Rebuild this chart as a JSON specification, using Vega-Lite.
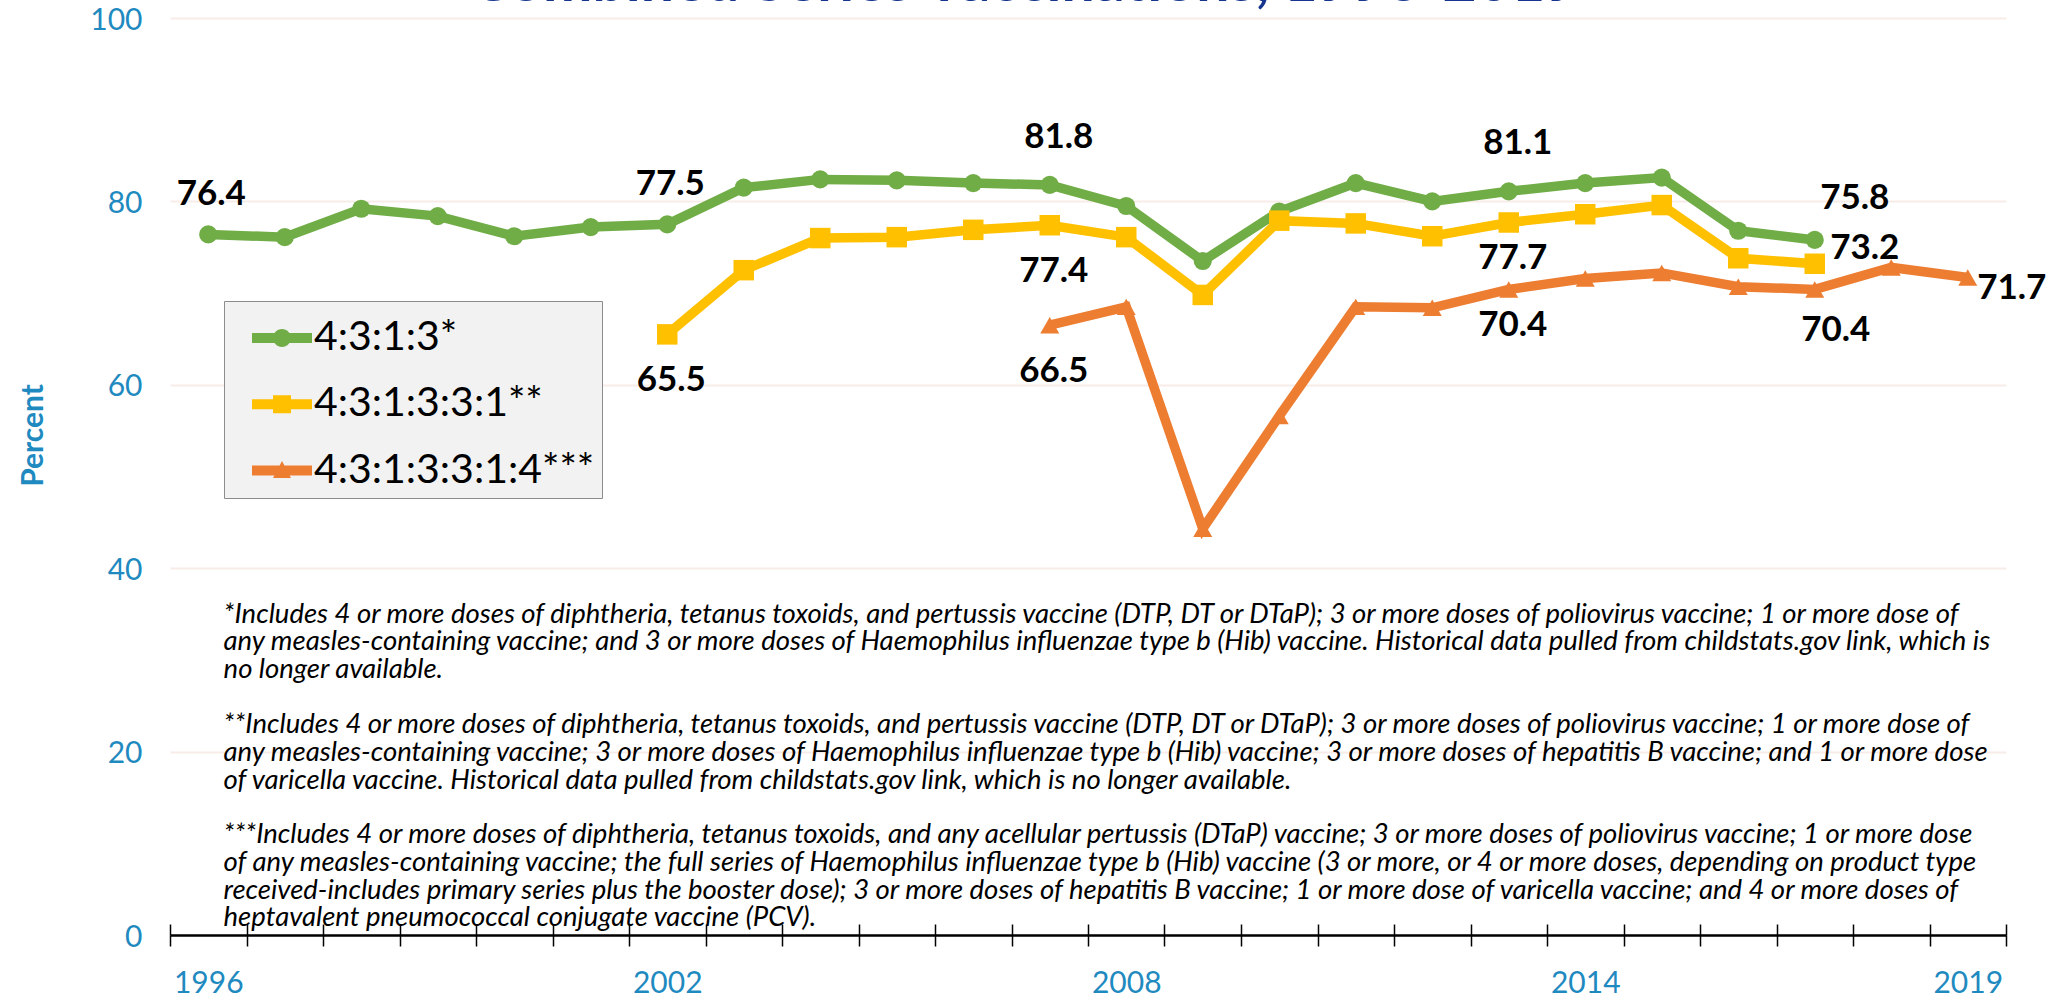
{
  "$schema": "https://vega.github.io/schema/vega-lite/v6.json",
  "width": 1836,
  "height": 917,
  "autosize": {"type": "none"},
  "padding": {"left": 170, "top": 18, "right": 60, "bottom": 66},
  "background": "white",
  "title": {
    "text": "Combined Series Vaccinations, 1996-2019",
    "anchor": "middle",
    "frame": "group",
    "baseline": "alphabetic",
    "offset": -55,
    "dx": -63,
    "fontSize": 59,
    "font": "Lato",
    "fontWeight": "bold",
    "color": "#17358F"
  },
  "datasets": {
    "rates": [
      {"series": "4:3:1:3*", "year": 1996, "pct": 76.4},
      {"series": "4:3:1:3*", "year": 1997, "pct": 76.1},
      {"series": "4:3:1:3*", "year": 1998, "pct": 79.2},
      {"series": "4:3:1:3*", "year": 1999, "pct": 78.4},
      {"series": "4:3:1:3*", "year": 2000, "pct": 76.2},
      {"series": "4:3:1:3*", "year": 2001, "pct": 77.2},
      {"series": "4:3:1:3*", "year": 2002, "pct": 77.5},
      {"series": "4:3:1:3*", "year": 2003, "pct": 81.5},
      {"series": "4:3:1:3*", "year": 2004, "pct": 82.4},
      {"series": "4:3:1:3*", "year": 2005, "pct": 82.3},
      {"series": "4:3:1:3*", "year": 2006, "pct": 82.0},
      {"series": "4:3:1:3*", "year": 2007, "pct": 81.8},
      {"series": "4:3:1:3*", "year": 2008, "pct": 79.5},
      {"series": "4:3:1:3*", "year": 2009, "pct": 73.5},
      {"series": "4:3:1:3*", "year": 2010, "pct": 78.9},
      {"series": "4:3:1:3*", "year": 2011, "pct": 82.0},
      {"series": "4:3:1:3*", "year": 2012, "pct": 80.0},
      {"series": "4:3:1:3*", "year": 2013, "pct": 81.1},
      {"series": "4:3:1:3*", "year": 2014, "pct": 82.0},
      {"series": "4:3:1:3*", "year": 2015, "pct": 82.6},
      {"series": "4:3:1:3*", "year": 2016, "pct": 76.8},
      {"series": "4:3:1:3*", "year": 2017, "pct": 75.8},
      {"series": "4:3:1:3:3:1**", "year": 2002, "pct": 65.5},
      {"series": "4:3:1:3:3:1**", "year": 2003, "pct": 72.5},
      {"series": "4:3:1:3:3:1**", "year": 2004, "pct": 76.0},
      {"series": "4:3:1:3:3:1**", "year": 2005, "pct": 76.1},
      {"series": "4:3:1:3:3:1**", "year": 2006, "pct": 76.9},
      {"series": "4:3:1:3:3:1**", "year": 2007, "pct": 77.4},
      {"series": "4:3:1:3:3:1**", "year": 2008, "pct": 76.1},
      {"series": "4:3:1:3:3:1**", "year": 2009, "pct": 69.8},
      {"series": "4:3:1:3:3:1**", "year": 2010, "pct": 77.9},
      {"series": "4:3:1:3:3:1**", "year": 2011, "pct": 77.6},
      {"series": "4:3:1:3:3:1**", "year": 2012, "pct": 76.2},
      {"series": "4:3:1:3:3:1**", "year": 2013, "pct": 77.7},
      {"series": "4:3:1:3:3:1**", "year": 2014, "pct": 78.6},
      {"series": "4:3:1:3:3:1**", "year": 2015, "pct": 79.6},
      {"series": "4:3:1:3:3:1**", "year": 2016, "pct": 73.8},
      {"series": "4:3:1:3:3:1**", "year": 2017, "pct": 73.2},
      {"series": "4:3:1:3:3:1:4***", "year": 2007, "pct": 66.5},
      {"series": "4:3:1:3:3:1:4***", "year": 2008, "pct": 68.5},
      {"series": "4:3:1:3:3:1:4***", "year": 2009, "pct": 44.3},
      {"series": "4:3:1:3:3:1:4***", "year": 2010, "pct": 56.6},
      {"series": "4:3:1:3:3:1:4***", "year": 2011, "pct": 68.5},
      {"series": "4:3:1:3:3:1:4***", "year": 2012, "pct": 68.4},
      {"series": "4:3:1:3:3:1:4***", "year": 2013, "pct": 70.4},
      {"series": "4:3:1:3:3:1:4***", "year": 2014, "pct": 71.6},
      {"series": "4:3:1:3:3:1:4***", "year": 2015, "pct": 72.2},
      {"series": "4:3:1:3:3:1:4***", "year": 2016, "pct": 70.7},
      {"series": "4:3:1:3:3:1:4***", "year": 2017, "pct": 70.4},
      {"series": "4:3:1:3:3:1:4***", "year": 2018, "pct": 72.8},
      {"series": "4:3:1:3:3:1:4***", "year": 2019, "pct": 71.7}
    ],
    "notes": [
      {"id": 1, "note": [
        "*Includes 4 or more doses of diphtheria, tetanus toxoids, and pertussis vaccine (DTP, DT or DTaP); 3 or more doses of poliovirus vaccine; 1 or more dose of",
        "any measles-containing vaccine; and 3 or more doses of Haemophilus influenzae type b (Hib) vaccine. Historical data pulled from childstats.gov link, which is",
        "no longer available."
      ]},
      {"id": 2, "note": [
        "**Includes 4 or more doses of diphtheria, tetanus toxoids, and pertussis vaccine (DTP, DT or DTaP); 3 or more doses of poliovirus vaccine; 1 or more dose of",
        "any measles-containing vaccine; 3 or more doses of Haemophilus influenzae type b (Hib) vaccine; 3 or more doses of hepatitis B vaccine; and 1 or more dose",
        "of varicella vaccine. Historical data pulled from childstats.gov link, which is no longer available."
      ]},
      {"id": 3, "note": [
        "***Includes 4 or more doses of diphtheria, tetanus toxoids, and any acellular pertussis (DTaP) vaccine; 3 or more doses of poliovirus vaccine; 1 or more dose",
        "of any measles-containing vaccine; the full series of Haemophilus influenzae type b (Hib) vaccine (3 or more, or 4 or more doses, depending on product type",
        "received-includes primary series plus the booster dose); 3 or more doses of hepatitis B vaccine; 1 or more dose of varicella vaccine; and 4 or more doses of",
        "heptavalent pneumococcal conjugate vaccine (PCV)."
      ]}
    ]
  },
  "data": {"name": "rates"},
  "resolve": {"axis": {"x": "independent"}},
  "layer": [
    {
      "data": {"name": "notes"},
      "transform": [{"filter": "datum.id === 1"}],
      "mark": {"type": "text", "align": "left", "baseline": "top", "font": "Lato", "fontStyle": "italic", "fontSize": 27.5, "lineHeight": 27.7, "color": "#000000"},
      "encoding": {
        "x": {"datum": 1996.2, "type": "quantitative", "scale": {"domain": [1995.5, 2019.5], "nice": false, "zero": false}, "axis": null},
        "y": {"datum": 36.45, "type": "quantitative", "scale": {"domain": [0, 100]}},
        "text": {"field": "note"}
      }
    },
    {
      "data": {"name": "notes"},
      "transform": [{"filter": "datum.id === 2"}],
      "mark": {"type": "text", "align": "left", "baseline": "top", "font": "Lato", "fontStyle": "italic", "fontSize": 27.5, "lineHeight": 27.7, "color": "#000000"},
      "encoding": {
        "x": {"datum": 1996.2, "type": "quantitative", "axis": null},
        "y": {"datum": 24.4, "type": "quantitative"},
        "text": {"field": "note"}
      }
    },
    {
      "data": {"name": "notes"},
      "transform": [{"filter": "datum.id === 3"}],
      "mark": {"type": "text", "align": "left", "baseline": "top", "font": "Lato", "fontStyle": "italic", "fontSize": 27.5, "lineHeight": 27.7, "color": "#000000"},
      "encoding": {
        "x": {"datum": 1996.2, "type": "quantitative", "axis": null},
        "y": {"datum": 12.4, "type": "quantitative"},
        "text": {"field": "note"}
      }
    },
    {
      "transform": [{"filter": "datum.series === '4:3:1:3*'"}],
      "mark": {"type": "line", "strokeWidth": 9.5, "point": {"shape": "circle", "size": 330, "filled": true, "opacity": 1}},
      "encoding": {
        "x": {
          "field": "year", "type": "quantitative",
          "scale": {"domain": [1995.5, 2019.5], "nice": false, "zero": false},
          "axis": {
            "orient": "bottom",
            "title": null,
            "grid": false,
            "values": [1995.5, 1996.5, 1997.5, 1998.5, 1999.5, 2000.5, 2001.5, 2002.5, 2003.5, 2004.5, 2005.5, 2006.5, 2007.5, 2008.5, 2009.5, 2010.5, 2011.5, 2012.5, 2013.5, 2014.5, 2015.5, 2016.5, 2017.5, 2018.5, 2019.5],
            "labelExpr": "indexof([1995.5, 2001.5, 2007.5, 2013.5, 2018.5], datum.value) >= 0 ? format(datum.value + 0.5, 'd') : ''",
            "labelOffset": 38.25,
            "labelOverlap": false,
            "labelFlush": false,
            "labelFontSize": 30,
            "labelFont": "Lato",
            "labelColor": "#1F8AC0",
            "labelPadding": 22,
            "labelBaseline": "top",
            "tickSize": 11,
            "tickColor": "#000000",
            "tickWidth": 1.5,
            "domainColor": "#000000",
            "domainWidth": 2.5
          }
        },
        "y": {
          "field": "pct", "type": "quantitative",
          "scale": {"domain": [0, 100]},
          "axis": {
            "title": "Percent",
            "titleFont": "Lato",
            "titleFontSize": 30,
            "titleFontWeight": "bold",
            "titleColor": "#1F8AC0",
            "titleX": -122,
            "titleY": 417,
            "values": [0, 20, 40, 60, 80, 100],
            "domain": false,
            "ticks": false,
            "grid": true,
            "gridColor": "#F7ECE8",
            "gridWidth": 2,
            "labelFontSize": 30,
            "labelFont": "Lato",
            "labelColor": "#1F8AC0",
            "labelPadding": 28,
            "labelOffset": 2
          }
        },
        "color": {
          "field": "series", "type": "nominal",
          "scale": {"domain": ["4:3:1:3*", "4:3:1:3:3:1**", "4:3:1:3:3:1:4***"], "range": ["#70AD47", "#FFC000", "#ED7D31"]},
          "legend": {"labelExpr": "datum.label + '\u00a0\u00a0\u00a0\u00a0\u00a0\u00a0\u00a0'"}
        }
      }
    },
    {
      "transform": [{"filter": "datum.series === '4:3:1:3:3:1**'"}],
      "mark": {"type": "line", "strokeWidth": 9.5, "point": {"shape": "square", "size": 420, "filled": true, "opacity": 1}},
      "encoding": {
        "x": {"field": "year", "type": "quantitative", "axis": null},
        "y": {"field": "pct", "type": "quantitative"},
        "color": {"field": "series", "type": "nominal", "legend": {"labelExpr": "datum.label + '\u00a0\u00a0\u00a0\u00a0\u00a0\u00a0\u00a0'"}}
      }
    },
    {
      "transform": [{"filter": "datum.series === '4:3:1:3:3:1:4***'"}],
      "mark": {"type": "line", "strokeWidth": 9.5, "point": {"shape": "triangle-up", "size": 360, "filled": true, "opacity": 1}},
      "encoding": {
        "x": {"field": "year", "type": "quantitative", "axis": null},
        "y": {"field": "pct", "type": "quantitative"},
        "color": {"field": "series", "type": "nominal", "legend": {"labelExpr": "datum.label + '\u00a0\u00a0\u00a0\u00a0\u00a0\u00a0\u00a0'"}}
      }
    },
    {
      "transform": [{"filter": "datum.series === '4:3:1:3*' && (datum.year === 1996 || datum.year === 2002)"}],
      "mark": {"type": "text", "font": "Lato", "fontWeight": "bold", "fontSize": 35, "color": "#000000", "baseline": "middle", "dx": 3, "dy": -40},
      "encoding": {
        "x": {"field": "year", "type": "quantitative", "axis": null},
        "y": {"field": "pct", "type": "quantitative"},
        "text": {"field": "pct", "type": "quantitative", "format": ".1f"}
      }
    },
    {
      "transform": [{"filter": "datum.series === '4:3:1:3*' && (datum.year === 2007 || datum.year === 2013)"}],
      "mark": {"type": "text", "font": "Lato", "fontWeight": "bold", "fontSize": 35, "color": "#000000", "baseline": "middle", "dx": 9, "dy": -48},
      "encoding": {
        "x": {"field": "year", "type": "quantitative", "axis": null},
        "y": {"field": "pct", "type": "quantitative"},
        "text": {"field": "pct", "type": "quantitative", "format": ".1f"}
      }
    },
    {
      "transform": [{"filter": "(datum.series === '4:3:1:3:3:1**' && (datum.year === 2002 || datum.year === 2007)) || (datum.series === '4:3:1:3:3:1:4***' && datum.year === 2007)"}],
      "mark": {"type": "text", "font": "Lato", "fontWeight": "bold", "fontSize": 35, "color": "#000000", "baseline": "middle", "dx": 4, "dy": 46},
      "encoding": {
        "x": {"field": "year", "type": "quantitative", "axis": null},
        "y": {"field": "pct", "type": "quantitative"},
        "text": {"field": "pct", "type": "quantitative", "format": ".1f"}
      }
    },
    {
      "transform": [{"filter": "datum.year === 2013 && datum.series !== '4:3:1:3*'"}],
      "mark": {"type": "text", "font": "Lato", "fontWeight": "bold", "fontSize": 35, "color": "#000000", "baseline": "middle", "dx": 4, "dy": 36},
      "encoding": {
        "x": {"field": "year", "type": "quantitative", "axis": null},
        "y": {"field": "pct", "type": "quantitative"},
        "text": {"field": "pct", "type": "quantitative", "format": ".1f"}
      }
    },
    {
      "transform": [{"filter": "datum.year === 2017 && datum.series === '4:3:1:3*'"}],
      "mark": {"type": "text", "font": "Lato", "fontWeight": "bold", "fontSize": 35, "color": "#000000", "baseline": "middle", "dx": 40, "dy": -42},
      "encoding": {
        "x": {"field": "year", "type": "quantitative", "axis": null},
        "y": {"field": "pct", "type": "quantitative"},
        "text": {"field": "pct", "type": "quantitative", "format": ".1f"}
      }
    },
    {
      "transform": [{"filter": "datum.year === 2017 && datum.series === '4:3:1:3:3:1**'"}],
      "mark": {"type": "text", "font": "Lato", "fontWeight": "bold", "fontSize": 35, "color": "#000000", "baseline": "middle", "dx": 50, "dy": -16},
      "encoding": {
        "x": {"field": "year", "type": "quantitative", "axis": null},
        "y": {"field": "pct", "type": "quantitative"},
        "text": {"field": "pct", "type": "quantitative", "format": ".1f"}
      }
    },
    {
      "transform": [{"filter": "datum.year === 2017 && datum.series === '4:3:1:3:3:1:4***'"}],
      "mark": {"type": "text", "font": "Lato", "fontWeight": "bold", "fontSize": 35, "color": "#000000", "baseline": "middle", "dx": 21, "dy": 41},
      "encoding": {
        "x": {"field": "year", "type": "quantitative", "axis": null},
        "y": {"field": "pct", "type": "quantitative"},
        "text": {"field": "pct", "type": "quantitative", "format": ".1f"}
      }
    },
    {
      "transform": [{"filter": "datum.year === 2019"}],
      "mark": {"type": "text", "font": "Lato", "fontWeight": "bold", "fontSize": 35, "color": "#000000", "baseline": "middle", "dx": 44, "dy": 10},
      "encoding": {
        "x": {"field": "year", "type": "quantitative", "axis": null},
        "y": {"field": "pct", "type": "quantitative"},
        "text": {"field": "pct", "type": "quantitative", "format": ".1f"}
      }
    },
    {
      "transform": [{"filter": "false"}],
      "mark": {"type": "point", "filled": true, "opacity": 1},
      "encoding": {
        "x": {
          "field": "year", "type": "quantitative",
          "axis": {
            "orient": "bottom",
            "title": null,
            "grid": false,
            "domain": false,
            "labels": false,
            "values": [1995.5, 1996.5, 1997.5, 1998.5, 1999.5, 2000.5, 2001.5, 2002.5, 2003.5, 2004.5, 2005.5, 2006.5, 2007.5, 2008.5, 2009.5, 2010.5, 2011.5, 2012.5, 2013.5, 2014.5, 2015.5, 2016.5, 2017.5, 2018.5, 2019.5],
            "tickSize": -11,
            "tickColor": "#000000",
            "tickWidth": 1.5
          }
        },
        "y": {"field": "pct", "type": "quantitative"},
        "color": {
          "field": "series", "type": "nominal",
          "legend": {"labelExpr": "datum.label + '\u00a0\u00a0\u00a0\u00a0\u00a0\u00a0\u00a0'"}
        },
        "shape": {
          "field": "series", "type": "nominal",
          "scale": {
            "domain": ["4:3:1:3*", "4:3:1:3:3:1**", "4:3:1:3:3:1:4***"],
            "range": [
              "M-1,-0.167H1V0.167H-1Z M-0.3,0A0.3,0.3 0 1 1 0.3,0A0.3,0.3 0 1 1 -0.3,0Z",
              "M-1,-0.167H1V0.167H-1Z M-0.3,-0.3H0.3V0.3H-0.3Z",
              "M-1,-0.167H1V0.167H-1Z M0,-0.32L0.3,0.25L-0.3,0.25Z"
            ]
          },
          "legend": {"labelExpr": "datum.label + '\u00a0\u00a0\u00a0\u00a0\u00a0\u00a0\u00a0'"}
        }
      }
    }
  ],
  "config": {
    "view": {"stroke": null},
    "font": "Lato",
    "legend": {
      "orient": "none",
      "legendX": 54,
      "legendY": 283,
      "title": null,
      "fillColor": "#F2F2F2",
      "strokeColor": "#8C8C8C",
      "padding": 7,
      "symbolOffset": 21,
      "symbolSize": 3600,
      "symbolStrokeWidth": 0,
      "labelFont": "Lato",
      "labelFontSize": 41,
      "labelColor": "#000000",
      "labelOffset": 2,
      "labelLimit": 600,
      "rowPadding": 16.3
    }
  }
}
